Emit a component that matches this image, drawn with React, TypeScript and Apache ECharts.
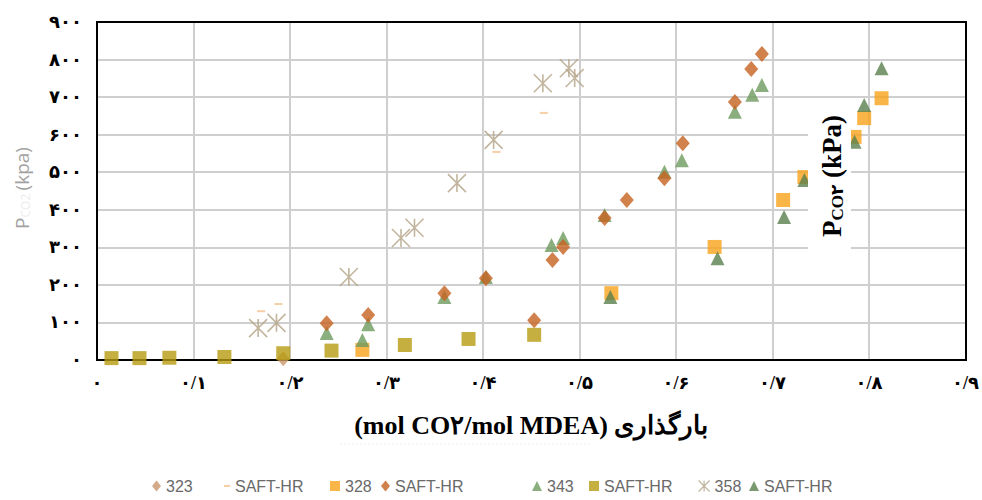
import React, { useEffect, useRef } from 'react';
import * as echarts from 'echarts';

// ---- tick labels (Persian digits) ----
const xTickLabels = ['۰', '۰/۱', '۰/۲', '۰/۳', '۰/۴', '۰/۵', '۰/۶', '۰/۷', '۰/۸', '۰/۹'];
const yTickLabels = ['۰', '۱۰۰', '۲۰۰', '۳۰۰', '۴۰۰', '۵۰۰', '۶۰۰', '۷۰۰', '۸۰۰', '۹۰۰'];

// ---- series values: [loading (mol CO2/mol MDEA), P_CO2 (kPa)] ----
const exp323 = [[0.193, 3]];
const saft323 = [[0.170, 130], [0.188, 149], [0.414, 554], [0.463, 658]];
const exp328 = [[0.275, 27], [0.533, 178], [0.640, 301], [0.711, 426], [0.733, 487], [0.785, 594], [0.795, 644], [0.813, 697]];
const saft328 = [[0.238, 98], [0.281, 120], [0.360, 178], [0.403, 218], [0.453, 106], [0.472, 266], [0.483, 301], [0.526, 378], [0.549, 426], [0.588, 484], [0.607, 577], [0.661, 687], [0.678, 775], [0.689, 815]];
const exp343 = [[0.238, 72], [0.275, 53], [0.281, 95], [0.360, 168], [0.403, 221], [0.471, 306], [0.483, 325], [0.526, 386], [0.588, 501], [0.606, 532], [0.661, 661], [0.679, 706], [0.689, 732]];
const saft343 = [[0.015, 5], [0.044, 5], [0.075, 6], [0.132, 8], [0.193, 18], [0.243, 25], [0.319, 40], [0.385, 56], [0.453, 67]];
const exp358 = [[0.167, 85], [0.186, 99], [0.261, 221], [0.315, 325], [0.329, 352], [0.373, 471], [0.411, 586], [0.462, 737], [0.489, 777], [0.495, 751]];
const saft358 = [[0.532, 168], [0.643, 271], [0.712, 381], [0.733, 479], [0.785, 581], [0.795, 679], [0.813, 777]];

const seriesNames = ['323', 'SAFT-HR (323)', '328', 'SAFT-HR (328)', '343', 'SAFT-HR (343)', '358', 'SAFT-HR (358)'];

const xTitle = '(mol CO۲/mol MDEA) بارگذاری';

const STAR = 'path://M0,0L20,20M20,0L0,20M10,0L10,20';

const C = {
  e323: '#c9956b',
  s323: '#f6c38e',
  e328: '#f9a21b',
  s328: '#c5611f',
  e343: '#6e9a5e',
  s343: '#b79b12',
  e358: '#b3a386',
  s358: '#5a7f4c',
};

const toIdx = (v: number, step: number) => Math.round(v / step);

export default function App() {
  const ref = useRef<HTMLDivElement>(null);
  useEffect(() => {
    if (!ref.current) return;
    const chart = echarts.init(ref.current, null, { renderer: 'svg' });

    const legendText = { fontSize: 16, color: '#6a6a6a', fontFamily: "'Liberation Sans', Arial, sans-serif" };
    const fmt = (n: string) => (n.startsWith('SAFT') ? 'SAFT-HR' : n);
    const mkLegend = (name: string, left: number, icon: string, itemStyle: any, w = 10, h = 10) => ({
      show: true,
      left,
      top: 478,
      padding: 0,
      itemWidth: w,
      itemHeight: h,
      itemGap: 0,
      selectedMode: false,
      formatter: fmt,
      textStyle: legendText,
      data: [{ name, icon, itemStyle }],
    });

    const tickFont = "'Liberation Serif', 'DejaVu Sans', serif";

    const option: any = {
      animation: false,
      backgroundColor: '#fff',
      grid: { left: 97, right: 16, top: 22, bottom: 140, show: false },
      xAxis: {
        type: 'value', min: 0, max: 0.9, interval: 0.1,
        axisLine: { show: false }, axisTick: { show: false },
        splitLine: { show: true, lineStyle: { color: '#cfcfcf', width: 2 } },
        axisLabel: {
          margin: 14, fontSize: 18, fontWeight: 'bold', color: '#000', fontFamily: tickFont,
          formatter: (v: number) => xTickLabels[toIdx(v, 0.1)] ?? '',
        },
        name: xTitle, nameLocation: 'middle', nameGap: 52,
        nameTextStyle: { fontSize: 26, fontWeight: 'bold', color: '#000', fontFamily: "'Liberation Serif', 'DejaVu Serif', serif" },
      },
      yAxis: {
        type: 'value', min: 0, max: 900, interval: 100,
        axisLine: { show: false }, axisTick: { show: false },
        splitLine: { show: true, lineStyle: { color: '#cfcfcf', width: 2 } },
        axisLabel: {
          margin: 15, fontSize: 18, fontWeight: 'bold', color: '#000', fontFamily: tickFont,
          formatter: (v: number) => yTickLabels[toIdx(v, 100)] ?? '',
        },
      },
      legend: [
        mkLegend(seriesNames[0], 152, 'diamond', { color: C.e323 }, 9, 11),
        mkLegend(seriesNames[1], 224, 'rect', { color: C.s323 }, 6, 2),
        mkLegend(seriesNames[2], 330, 'rect', { color: C.e328 }, 10, 10),
        mkLegend(seriesNames[3], 381, 'diamond', { color: C.s328 }, 9, 11),
        mkLegend(seriesNames[4], 532, 'triangle', { color: C.e343 }, 10, 10),
        mkLegend(seriesNames[5], 589, 'rect', { color: C.s343 }, 10, 10),
        mkLegend(seriesNames[6], 698, STAR, { color: 'rgba(0,0,0,0)', borderColor: C.e358, borderWidth: 1.2 }, 11, 11),
        mkLegend(seriesNames[7], 749, 'triangle', { color: C.s358 }, 10, 10),
      ],
      series: [
        { name: seriesNames[5], type: 'scatter', data: saft343, symbol: 'rect', symbolSize: 14, itemStyle: { color: C.s343 }, z: 2 },
        { name: seriesNames[0], type: 'scatter', data: exp323, symbol: 'diamond', symbolSize: [13, 15], itemStyle: { color: C.e323 }, z: 1 },
        { name: seriesNames[2], type: 'scatter', data: exp328, symbol: 'rect', symbolSize: 14, itemStyle: { color: C.e328 }, z: 3 },
        { name: seriesNames[7], type: 'scatter', data: saft358, symbol: 'triangle', symbolSize: 14, itemStyle: { color: C.s358 }, z: 4 },
        { name: seriesNames[4], type: 'scatter', data: exp343, symbol: 'triangle', symbolSize: 14, itemStyle: { color: C.e343 }, z: 4 },
        { name: seriesNames[3], type: 'scatter', data: saft328, symbol: 'diamond', symbolSize: [14, 16], itemStyle: { color: C.s328 }, z: 5 },
        { name: seriesNames[6], type: 'scatter', data: exp358, symbol: STAR, symbolSize: 18, itemStyle: { color: 'rgba(0,0,0,0)', borderColor: C.e358, borderWidth: 1.6 }, z: 6 },
        { name: seriesNames[1], type: 'scatter', data: saft323, symbol: 'rect', symbolSize: [8, 2], itemStyle: { color: C.s323 }, z: 7 },
      ],
      graphic: [
        // plot frame
        { type: 'rect', z: 1, shape: { x: 97, y: 22, width: 869, height: 338 }, style: { fill: 'none', stroke: '#000', lineWidth: 2 } },
        // faded, partly hidden y-axis name
        {
          type: 'text', x: 22, y: 188, rotation: Math.PI / 2, z: 50,
          style: {
            text: '{p|P}{s|CO2} {p|(kpa)}',
            align: 'center', verticalAlign: 'middle',
            rich: {
              p: { fontSize: 19, fill: '#a2a2a2', fontFamily: "'Open Sans', 'Liberation Sans', sans-serif" },
              s: { fontSize: 12, fill: '#ececec', fontFamily: "'Open Sans', 'Liberation Sans', sans-serif", padding: [7, 0, 0, 0] },
            },
          },
        },
        // white box with the pasted axis title
        { type: 'rect', z: 100, shape: { x: 808, y: 106, width: 43, height: 143 }, style: { fill: '#fff' } },
        {
          type: 'text', x: 832, y: 176, rotation: Math.PI / 2, z: 101,
          style: {
            text: '{p|P}{s|CO۲}{p| (kPa)}',
            align: 'center', verticalAlign: 'middle',
            rich: {
              p: { fontSize: 27, fontWeight: 'bold', fill: '#000', fontFamily: "'Liberation Serif', serif" },
              s: { fontSize: 17, fontWeight: 'bold', fill: '#000', fontFamily: "'Liberation Serif', 'DejaVu Sans', serif", padding: [10, 0, 0, 0] },
            },
          },
        },
        { type: 'line', z: 1, shape: { x1: 340, y1: 444, x2: 590, y2: 444 }, style: { stroke: '#f0f0f0', lineWidth: 1, lineDash: [2, 2] } },
      ],
    };

    chart.setOption(option);
    return () => chart.dispose();
  }, []);

  return <div ref={ref} style={{ width: 982, height: 500, position: 'absolute', left: 0, top: 0 }} />;
}
